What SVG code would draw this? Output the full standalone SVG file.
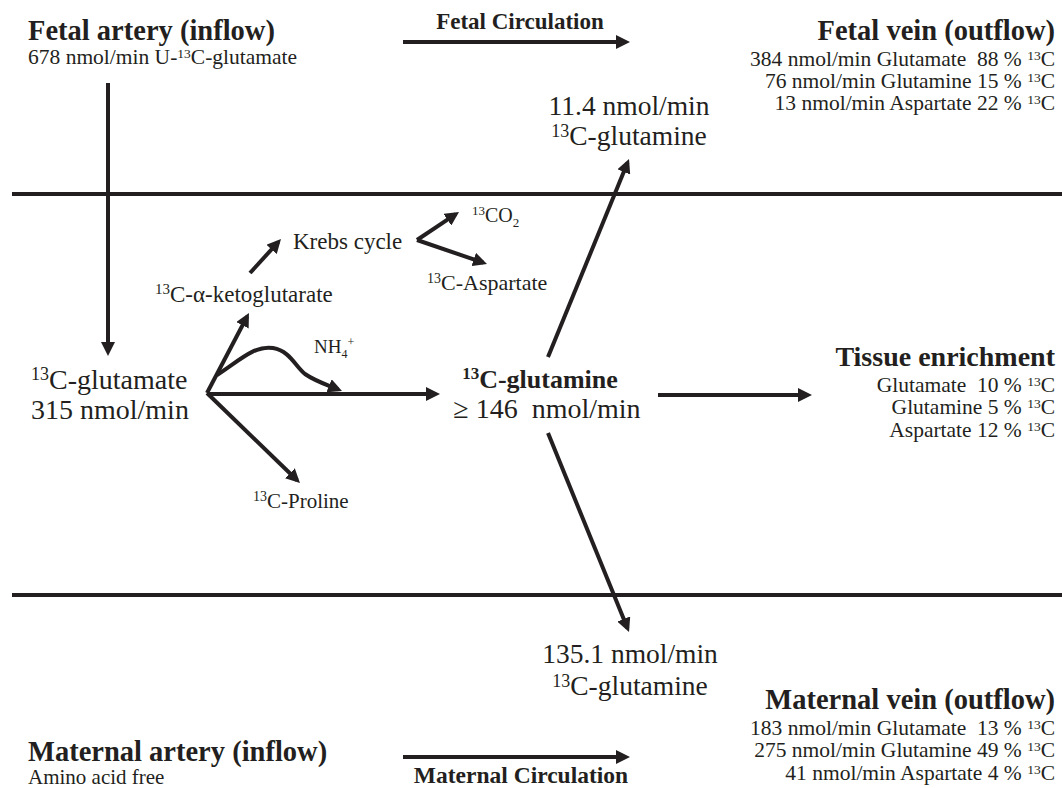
<svg xmlns="http://www.w3.org/2000/svg" width="1062" height="788" viewBox="0 0 1062 788">
<defs>
<style>
text{font-family:"Liberation Serif","Times New Roman",serif;fill:#231f20}
.b{font-weight:bold}
.m{text-anchor:middle}
.e{text-anchor:end}
.ln{stroke:#231f20;stroke-width:4;fill:none}
.ar{stroke:#231f20;stroke-width:4;fill:none;marker-end:url(#ah)}
</style>
<marker id="ah" markerUnits="userSpaceOnUse" markerWidth="14" markerHeight="14" refX="10" refY="7" orient="auto">
<path d="M0,0 L14,7 L0,14 z" fill="#231f20"/>
</marker>
</defs>
<rect width="1062" height="788" fill="#fff"/>

<g id="connectors">
<line class="ln" x1="12" y1="194" x2="1062" y2="194"/>
<line class="ln" x1="12" y1="595" x2="1062" y2="595"/>
<line class="ar" x1="403" y1="42" x2="626" y2="42"/>
<line class="ar" x1="403" y1="757" x2="626" y2="757"/>
<line class="ar" x1="108" y1="83" x2="108" y2="352"/>
<line class="ar" x1="207" y1="393" x2="247.1" y2="316.5"/>
<line class="ar" x1="207" y1="393" x2="297.1" y2="480.2"/>
<line class="ar" x1="207" y1="394" x2="436" y2="394"/>
<path class="ar" d="M217,375 C240,360 255,345 273,348 C290,351 295,366 305,374 C315,381 326,384.5 338.3,389.5"/>
<line class="ar" x1="250" y1="273" x2="278.3" y2="242"/>
<line class="ar" x1="417" y1="240" x2="455.7" y2="214.2"/>
<line class="ar" x1="417" y1="240" x2="483.2" y2="262.7"/>
<line class="ar" x1="548" y1="357" x2="627.5" y2="162.7"/>
<line class="ar" x1="548" y1="433" x2="627.5" y2="628.3"/>
<line class="ar" x1="658" y1="395" x2="808" y2="395"/>
</g>

<g id="fetal-artery">
<text class="b" x="28" y="40" font-size="28.5">Fetal artery (inflow)</text>
<text x="28" y="64" font-size="21.5">678 nmol/min U-<tspan font-size="13.5" dy="-6">13</tspan><tspan dy="6">C-glutamate</tspan></text>
</g>

<g id="fetal-circulation">
<text class="b m" x="520" y="29" font-size="23">Fetal Circulation</text>
</g>

<g id="fetal-vein">
<text class="b e" x="1055" y="40" font-size="28.5">Fetal vein (outflow)</text>
<text class="e" x="1055" y="66" font-size="21.5" xml:space="preserve">384 nmol/min Glutamate  88 % <tspan font-size="13.5" dy="-6">13</tspan><tspan dy="6">C</tspan></text>
<text class="e" x="1055" y="88" font-size="21.5" xml:space="preserve">76 nmol/min Glutamine 15 % <tspan font-size="13.5" dy="-6">13</tspan><tspan dy="6">C</tspan></text>
<text class="e" x="1055" y="110" font-size="21.5" xml:space="preserve">13 nmol/min Aspartate 22 % <tspan font-size="13.5" dy="-6">13</tspan><tspan dy="6">C</tspan></text>
</g>

<g id="fetal-glutamine">
<text class="m" x="629" y="115" font-size="27.5">11.4 nmol/min</text>
<text class="m" x="629" y="145" font-size="27.5"><tspan font-size="18" dy="-8">13</tspan><tspan dy="8">C-glutamine</tspan></text>
</g>

<g id="krebs">
<text x="293" y="249" font-size="23">Krebs cycle</text>
</g>

<g id="co2">
<text x="472" y="222" font-size="20"><tspan font-size="13" dy="-7">13</tspan><tspan dy="7">CO</tspan><tspan font-size="13" dy="5">2</tspan></text>
</g>

<g id="aspartate">
<text x="427" y="290" font-size="22"><tspan font-size="14" dy="-7">13</tspan><tspan dy="7">C-Aspartate</tspan></text>
</g>

<g id="ketoglutarate">
<text x="155" y="302" font-size="23"><tspan font-size="15" dy="-8">13</tspan><tspan dy="8">C-α-ketoglutarate</tspan></text>
</g>

<g id="nh4">
<text x="314" y="353" font-size="19">NH<tspan font-size="12" dy="5">4</tspan><tspan font-size="12" dy="-12">+</tspan></text>
</g>

<g id="glutamate">
<text x="31" y="389" font-size="28"><tspan font-size="18" dy="-9">13</tspan><tspan dy="9">C-glutamate</tspan></text>
<text x="31" y="419" font-size="28">315 nmol/min</text>
</g>

<g id="glutamine">
<text class="b m" x="540" y="388" font-size="26"><tspan font-size="17" dy="-9">13</tspan><tspan dy="9">C-glutamine</tspan></text>
<text class="m" x="547" y="418" font-size="28" xml:space="preserve">≥ 146  nmol/min</text>
</g>

<g id="tissue">
<text class="b e" x="1055" y="366" font-size="28">Tissue enrichment</text>
<text class="e" x="1055" y="392" font-size="21.5" xml:space="preserve">Glutamate  10 % <tspan font-size="13.5" dy="-6">13</tspan><tspan dy="6">C</tspan></text>
<text class="e" x="1055" y="414" font-size="21.5" xml:space="preserve">Glutamine 5 % <tspan font-size="13.5" dy="-6">13</tspan><tspan dy="6">C</tspan></text>
<text class="e" x="1055" y="437" font-size="21.5" xml:space="preserve">Aspartate 12 % <tspan font-size="13.5" dy="-6">13</tspan><tspan dy="6">C</tspan></text>
</g>

<g id="proline">
<text x="253" y="508" font-size="21"><tspan font-size="14" dy="-7">13</tspan><tspan dy="7">C-Proline</tspan></text>
</g>

<g id="maternal-glutamine">
<text class="m" x="630" y="663" font-size="27.5">135.1 nmol/min</text>
<text class="m" x="630" y="695" font-size="27.5"><tspan font-size="18" dy="-8">13</tspan><tspan dy="8">C-glutamine</tspan></text>
</g>

<g id="maternal-vein">
<text class="b e" x="1055" y="709" font-size="28.5">Maternal vein (outflow)</text>
<text class="e" x="1055" y="735" font-size="21.5" xml:space="preserve">183 nmol/min Glutamate  13 % <tspan font-size="13.5" dy="-6">13</tspan><tspan dy="6">C</tspan></text>
<text class="e" x="1055" y="757" font-size="21.5" xml:space="preserve">275 nmol/min Glutamine 49 % <tspan font-size="13.5" dy="-6">13</tspan><tspan dy="6">C</tspan></text>
<text class="e" x="1055" y="780" font-size="21.5" xml:space="preserve">41 nmol/min Aspartate 4 % <tspan font-size="13.5" dy="-6">13</tspan><tspan dy="6">C</tspan></text>
</g>

<g id="maternal-artery">
<text class="b" x="28" y="761" font-size="28.5">Maternal artery (inflow)</text>
<text x="28" y="784" font-size="21">Amino acid free</text>
</g>

<g id="maternal-circulation">
<text class="b m" x="521" y="783" font-size="23.5">Maternal Circulation</text>
</g>
</svg>
